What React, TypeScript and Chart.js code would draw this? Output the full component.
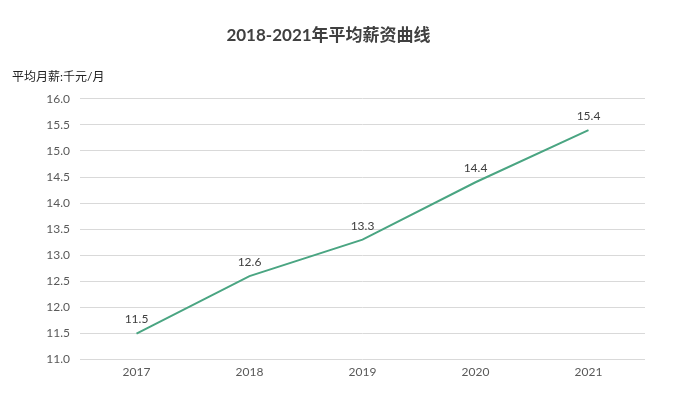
import React, { useEffect, useRef } from "react";
import { Chart, registerables } from "chart.js";

Chart.register(...registerables);

const years = ["2017", "2018", "2019", "2020", "2021"];
const salary = [11.5, 12.6, 13.3, 14.4, 15.4];
const chartTitle = "2018-2021年平均薪资曲线";
const axisTitle = "平均月薪:千元/月";

const FONT = "Lato, 'Noto Sans CJK SC', sans-serif";

const valueLabels = {
  id: "valueLabels",
  afterDatasetsDraw(chart: any) {
    const ctx = chart.ctx;
    const meta = chart.getDatasetMeta(0);
    ctx.save();
    ctx.font = `12px ${FONT}`;
    ctx.fillStyle = "#404040";
    ctx.textAlign = "center";
    ctx.textBaseline = "bottom";
    meta.data.forEach((pt: any, i: number) => {
      ctx.fillText(salary[i].toFixed(1), pt.x, pt.y - 8);
    });
    ctx.restore();
  },
};

export default function App() {
  const ref = useRef<HTMLCanvasElement>(null);
  useEffect(() => {
    document.body.style.margin = "0";
    const chart = new Chart(ref.current!, {
      type: "line",
      data: {
        labels: years,
        datasets: [
          {
            data: salary,
            borderColor: "#4aa582",
            borderWidth: 2,
            pointRadius: 0,
            tension: 0,
            fill: false,
          },
        ],
      },
      options: {
        animation: false,
        responsive: false,
        layout: { padding: { left: 12, right: 28, top: 23, bottom: 12 } },
        plugins: {
          legend: { display: false },
          tooltip: { enabled: false },
          title: {
            display: true,
            text: chartTitle,
            color: "#404040",
            font: { family: FONT, size: 17, weight: "bold" },
            padding: { top: 2, bottom: 25 },
          },
          subtitle: {
            display: true,
            text: axisTitle,
            align: "start",
            color: "#222",
            font: { family: FONT, size: 12 },
            padding: { top: 0, bottom: 14 },
          },
        },
        scales: {
          x: {
            offset: true,
            grid: { display: false, drawTicks: false },
            border: { display: false },
            ticks: { color: "#595959", font: { family: FONT, size: 12 }, padding: 5 },
          },
          y: {
            min: 11,
            max: 16,
            grid: { color: "#d9d9d9", drawTicks: false },
            border: { display: false },
            afterFit: (scale: any) => {
              scale.width = 68;
            },
            ticks: {
              stepSize: 0.5,
              color: "#595959",
              font: { family: FONT, size: 12 },
              padding: 10,
              callback: (v: any) => Number(v).toFixed(1),
            },
          },
        },
      },
      plugins: [valueLabels],
    });
    return () => chart.destroy();
  }, []);
  return (
    <div style={{ width: 673, height: 396 }}>
      <canvas ref={ref} width={673} height={396} />
    </div>
  );
}
